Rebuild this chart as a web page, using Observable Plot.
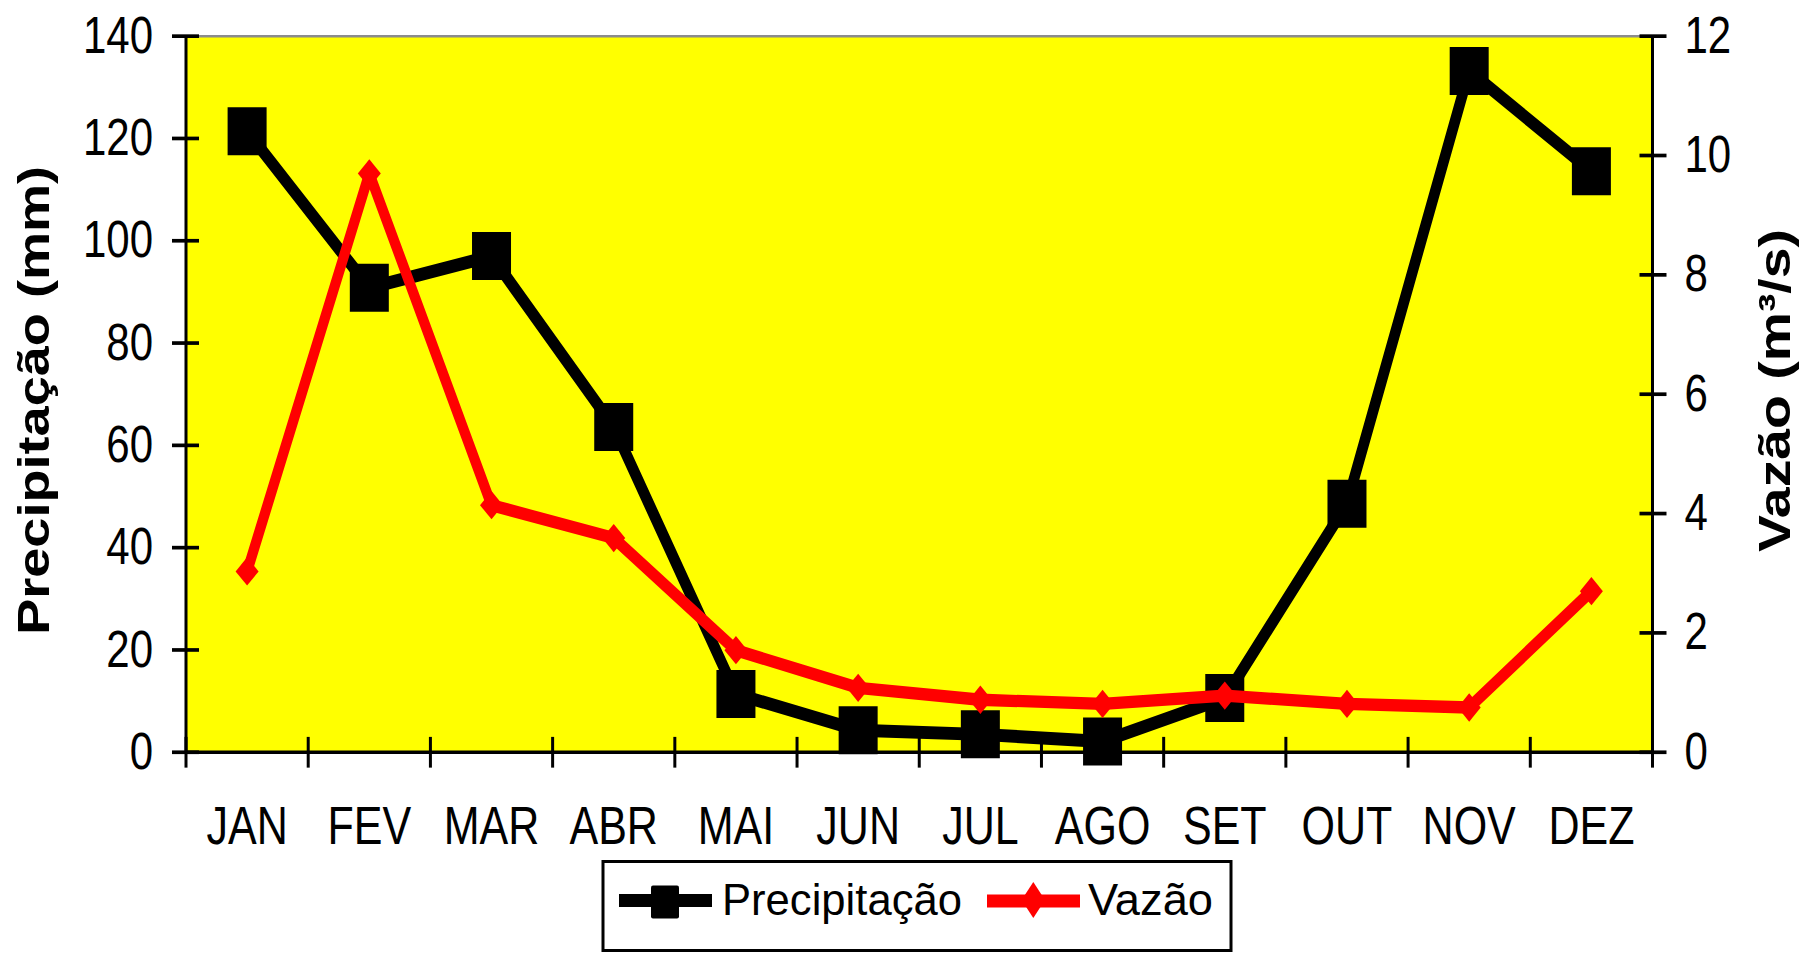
<!DOCTYPE html>
<html>
<head>
<meta charset="utf-8">
<script src="https://cdn.jsdelivr.net/npm/d3@7"></script>
<script src="https://cdn.jsdelivr.net/npm/@observablehq/plot@0.6"></script>
<style>
  html, body { margin: 0; padding: 0; background: #fff; }
  #wrap { position: relative; width: 1802px; height: 953px; overflow: hidden; font-family: "Liberation Sans", Arial, sans-serif; }
  #chart svg { display: block; }
  #legend { position: absolute; left: 600px; top: 858px; }
</style>
</head>
<body>
<div id="wrap">
  <div id="chart"></div>
  <svg id="legend" width="634" height="95" viewBox="0 0 634 95">
    <rect x="3" y="3.5" width="628" height="89" fill="white" stroke="black" stroke-width="3"></rect>
    <line x1="19" x2="112" y1="42.5" y2="42.5" stroke="black" stroke-width="13"></line>
    <rect x="51" y="27.5" width="28" height="33" rx="2" fill="black"></rect>
    <text x="122" y="57" font-size="45" textLength="240" lengthAdjust="spacingAndGlyphs" fill="black">Precipitação</text>
    <line x1="387" x2="480" y1="43" y2="43" stroke="#ff0000" stroke-width="13"></line>
    <path d="M433.3,24L445,42L433.3,60L421.6,42Z" fill="#ff0000"></path>
    <text x="488" y="57" font-size="45" textLength="125" lengthAdjust="spacingAndGlyphs" fill="black">Vazão</text>
  </svg>
</div>
<script>
// Monthly rainfall (mm, left axis) and river discharge (m³/s, right axis)
const months = ["JAN", "FEV", "MAR", "ABR", "MAI", "JUN", "JUL", "AGO", "SET", "OUT", "NOV", "DEZ"];
const precipitacao = [121.4, 90.8, 97.0, 63.6, 11.4, 4.3, 3.5, 2.1, 10.6, 48.6, 133.2, 113.6];
const vazao = [3.03, 9.70, 4.14, 3.59, 1.71, 1.08, 0.88, 0.81, 0.95, 0.81, 0.75, 2.70];
const precipTicks = [0, 20, 40, 60, 80, 100, 120, 140];
const vazaoTicks = [0, 2, 4, 6, 8, 10, 12];

const precipMax = 140;
const vazaoMax = 12;
const k = precipMax / vazaoMax; // discharge drawn on the rainfall scale

// The drawing is laid out at a base height and shown stretched vertically
const S = 1.23;
const W = 1802, H = 698;

// Marker shapes whose half-extent equals the dot radius
const squareMarker = {
  draw(ctx, size) {
    const h = Math.sqrt(size / Math.PI);
    ctx.moveTo(-h, -h); ctx.lineTo(h, -h); ctx.lineTo(h, h); ctx.lineTo(-h, h); ctx.closePath();
  }
};
const diamondMarker = {
  draw(ctx, size) {
    const h = Math.sqrt(size / Math.PI);
    ctx.moveTo(0, -h); ctx.lineTo(h, 0); ctx.lineTo(0, h); ctx.lineTo(-h, 0); ctx.closePath();
  }
};

const mid = (d, i) => i + 0.5;
const bounds = d3.range(months.length + 1);

const chart = Plot.plot({
  width: W,
  height: H,
  marginTop: 28.9,
  marginBottom: 86.9,
  marginLeft: 185.5,
  marginRight: 150,
  style: { fontFamily: '"Liberation Sans", Arial, sans-serif', background: "white", overflow: "visible", color: "black" },
  x: { domain: [0, months.length] },
  y: { domain: [0, precipMax] },
  marks: [
    Plot.frame({ fill: "#ffff00", stroke: null }),
    Plot.ruleY([precipMax], { stroke: "#8c8c8c", strokeWidth: 2 }),
    Plot.ruleX([0, months.length], { stroke: "black", strokeWidth: 3 }),
    Plot.ruleY([0], { stroke: "black", strokeWidth: 3 }),

    // month separators crossing the x axis
    Plot.axisX(bounds, { tickSize: 25, dy: -12, tickFormat: () => "", strokeWidth: 3, label: null }),
    // month names
    Plot.axisX(months, { x: mid, tickSize: 0, tickPadding: 44, tickFormat: (d) => d, fontSize: 43, label: null }),

    // left axis (rainfall)
    Plot.axisY(precipTicks, { anchor: "left", tickSize: 27, dx: 13.5, tickFormat: () => "", strokeWidth: 3, label: null }),
    Plot.axisY(precipTicks, { anchor: "left", tickSize: 0, tickPadding: 33, fontSize: 42, label: null }),

    // right axis (discharge)
    Plot.axisY(vazaoTicks, { anchor: "right", y: (d) => d * k, tickSize: 27, dx: -13.5, tickFormat: () => "", strokeWidth: 3, label: null }),
    Plot.axisY(vazaoTicks, { anchor: "right", y: (d) => d * k, tickSize: 0, tickPadding: 32, tickFormat: (d) => d, fontSize: 42, label: null }),

    // axis titles
    Plot.text(["Precipitação (mm)"], {
      text: (d) => d, frameAnchor: "left", textAnchor: "middle", dx: -168.5, dy: 5, rotate: -90,
      lineAnchor: "top", fontWeight: "bold", fontSize: 44, fill: "black"
    }),
    Plot.text(["Vazão (m³/s)"], {
      text: (d) => d, frameAnchor: "right", textAnchor: "middle", dx: 106, dy: -3, rotate: -90,
      lineAnchor: "top", fontWeight: "bold", fontSize: 45, fill: "black"
    }),

    // rainfall series
    Plot.line(precipitacao, { x: mid, y: (d) => d, stroke: "black", strokeWidth: 10.5 }),
    Plot.dot(precipitacao, { x: mid, y: (d) => d, symbol: squareMarker, r: 19.5, fill: "black", stroke: null }),

    // discharge series
    Plot.line(vazao, { x: mid, y: (d) => d * k, stroke: "#ff0000", strokeWidth: 10 }),
    Plot.dot(vazao, { x: mid, y: (d) => d * k, symbol: diamondMarker, r: 11.5, fill: "#ff0000", stroke: null })
  ]
});

chart.setAttribute("preserveAspectRatio", "none");
chart.setAttribute("height", H * S);
chart.style.width = W + "px";
chart.style.height = (H * S) + "px";
chart.style.maxWidth = "none";
document.getElementById("chart").appendChild(chart);
</script>
</body>
</html>
